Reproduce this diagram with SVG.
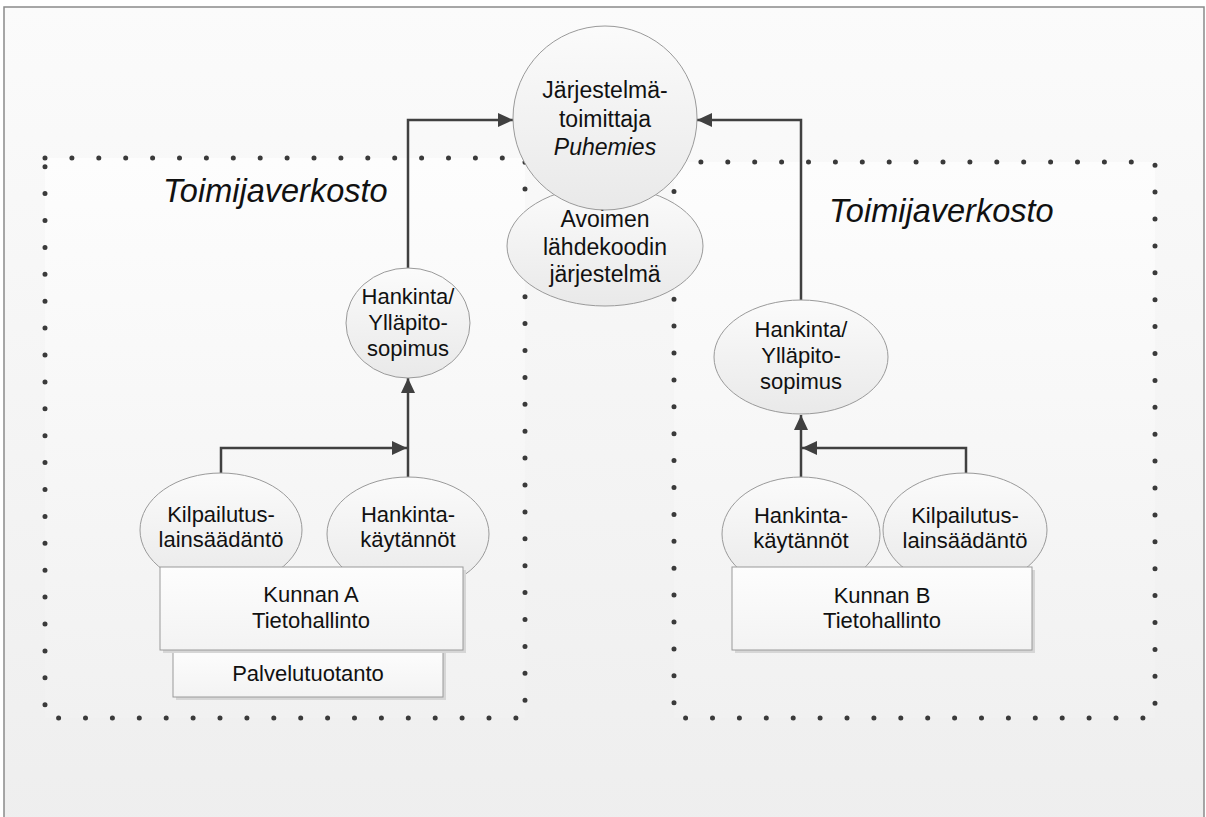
<svg xmlns="http://www.w3.org/2000/svg" width="1206" height="817" viewBox="0 0 1206 817">
  <defs>
    <linearGradient id="bg" x1="0" y1="0" x2="0" y2="1">
      <stop offset="0" stop-color="#fbfbfb"/>
      <stop offset="1" stop-color="#eeeeee"/>
    </linearGradient>
    <linearGradient id="area" x1="0" y1="0" x2="0" y2="1">
      <stop offset="0" stop-color="#fdfdfd"/>
      <stop offset="1" stop-color="#f1f1f1"/>
    </linearGradient>
    <linearGradient id="shape" x1="0" y1="0" x2="0" y2="1">
      <stop offset="0" stop-color="#fbfbfb"/>
      <stop offset="1" stop-color="#e9e9e9"/>
    </linearGradient>
    <linearGradient id="box" x1="0" y1="0" x2="0" y2="1">
      <stop offset="0" stop-color="#fdfdfd"/>
      <stop offset="1" stop-color="#f3f3f3"/>
    </linearGradient>
    <marker id="arrow" markerUnits="userSpaceOnUse" markerWidth="16" markerHeight="14" refX="15" refY="7" orient="auto">
      <path d="M0,0 L15,7 L0,14 z" fill="#404040"/>
    </marker>
  </defs>
  <style>
    .frame { fill: url(#bg); stroke: #8a8a8a; stroke-width: 1.5; }
    .area { fill: url(#area); stroke: #3a3a3a; stroke-width: 5; stroke-linecap: round; stroke-dasharray: 0 26.9; }
    .oval { fill: url(#shape); stroke: #9a9a9a; stroke-width: 1; }
    .rect { fill: url(#box); stroke: #9a9a9a; stroke-width: 1; }
    .shadow { fill: #d6d6d6; }
    .conn { fill: none; stroke: #404040; stroke-width: 2.5; }
    text { font-family: "Liberation Sans", Arial, sans-serif; fill: #111; text-anchor: middle; }
    .t { font-size: 22px; }
    .big { font-size: 23px; }
    .title { font-size: 32.5px; font-style: italic; text-anchor: start; }
    .it { font-style: italic; }
  </style>

  <!-- page -->
  <rect class="frame" x="4" y="7" width="1200" height="830"/>

  <!-- dotted network areas -->
  <g id="area-a">
    <rect class="area" x="45" y="158" width="480" height="560"/>
    <text class="title" x="163" y="202">Toimijaverkosto</text>
  </g>
  <g id="area-b">
    <rect class="area" x="674" y="162" width="481" height="556"/>
    <text class="title" x="829" y="222">Toimijaverkosto</text>
  </g>

  <!-- connectors -->
  <g id="connectors">
    <path class="conn" d="M408,268 V120 H513" marker-end="url(#arrow)"/>
    <path class="conn" d="M801,300 V120 H697" marker-end="url(#arrow)"/>
    <path class="conn" d="M221,473 V448 H407" marker-end="url(#arrow)"/>
    <path class="conn" d="M408,479 V378" marker-end="url(#arrow)"/>
    <path class="conn" d="M966,473 V448 H802" marker-end="url(#arrow)"/>
    <path class="conn" d="M801,479 V415" marker-end="url(#arrow)"/>
  </g>

  <!-- central supplier -->
  <g id="open-source">
    <ellipse class="oval" cx="605" cy="246" rx="98" ry="60"/>
    <text class="big" x="605" y="227">Avoimen</text>
    <text class="big" x="605" y="255">lähdekoodin</text>
    <text class="big" x="605" y="282">järjestelmä</text>
  </g>
  <g id="supplier">
    <circle class="oval" cx="605" cy="118" r="92"/>
    <text class="big" x="605" y="98">Järjestelmä-</text>
    <text class="big" x="605" y="127">toimittaja</text>
    <text class="big it" x="605" y="155">Puhemies</text>
  </g>

  <!-- municipality A -->
  <g id="contract-a">
    <ellipse class="oval" cx="408" cy="323" rx="62" ry="55"/>
    <text class="t" x="408" y="304">Hankinta/</text>
    <text class="t" x="408" y="330">Ylläpito-</text>
    <text class="t" x="408" y="356">sopimus</text>
  </g>
  <g id="law-a">
    <ellipse class="oval" cx="221" cy="530" rx="81" ry="57"/>
    <text class="t" x="221" y="522">Kilpailutus-</text>
    <text class="t" x="221" y="547">lainsäädäntö</text>
  </g>
  <g id="practice-a">
    <ellipse class="oval" cx="408" cy="534" rx="81" ry="57"/>
    <text class="t" x="408" y="522">Hankinta-</text>
    <text class="t" x="408" y="547">käytännöt</text>
  </g>
  <g id="service-a">
    <rect class="shadow" x="176" y="653" width="270" height="47"/>
    <rect class="rect" x="173" y="650" width="270" height="47"/>
    <text class="t" x="308" y="681">Palvelutuotanto</text>
  </g>
  <g id="it-a">
    <rect class="shadow" x="163" y="570" width="303" height="83"/>
    <rect class="rect" x="160" y="567" width="303" height="83"/>
    <text class="t" x="311" y="602">Kunnan A</text>
    <text class="t" x="311" y="628">Tietohallinto</text>
  </g>

  <!-- municipality B -->
  <g id="contract-b">
    <ellipse class="oval" cx="801" cy="357" rx="87" ry="57"/>
    <text class="t" x="801" y="337">Hankinta/</text>
    <text class="t" x="801" y="363">Ylläpito-</text>
    <text class="t" x="801" y="389">sopimus</text>
  </g>
  <g id="practice-b">
    <ellipse class="oval" cx="801" cy="534" rx="79" ry="57"/>
    <text class="t" x="801" y="523">Hankinta-</text>
    <text class="t" x="801" y="548">käytännöt</text>
  </g>
  <g id="law-b">
    <ellipse class="oval" cx="965" cy="530" rx="82" ry="57"/>
    <text class="t" x="965" y="523">Kilpailutus-</text>
    <text class="t" x="965" y="548">lainsäädäntö</text>
  </g>
  <g id="it-b">
    <rect class="shadow" x="735" y="570" width="300" height="83"/>
    <rect class="rect" x="732" y="567" width="300" height="83"/>
    <text class="t" x="882" y="603">Kunnan B</text>
    <text class="t" x="882" y="628">Tietohallinto</text>
  </g>
</svg>
